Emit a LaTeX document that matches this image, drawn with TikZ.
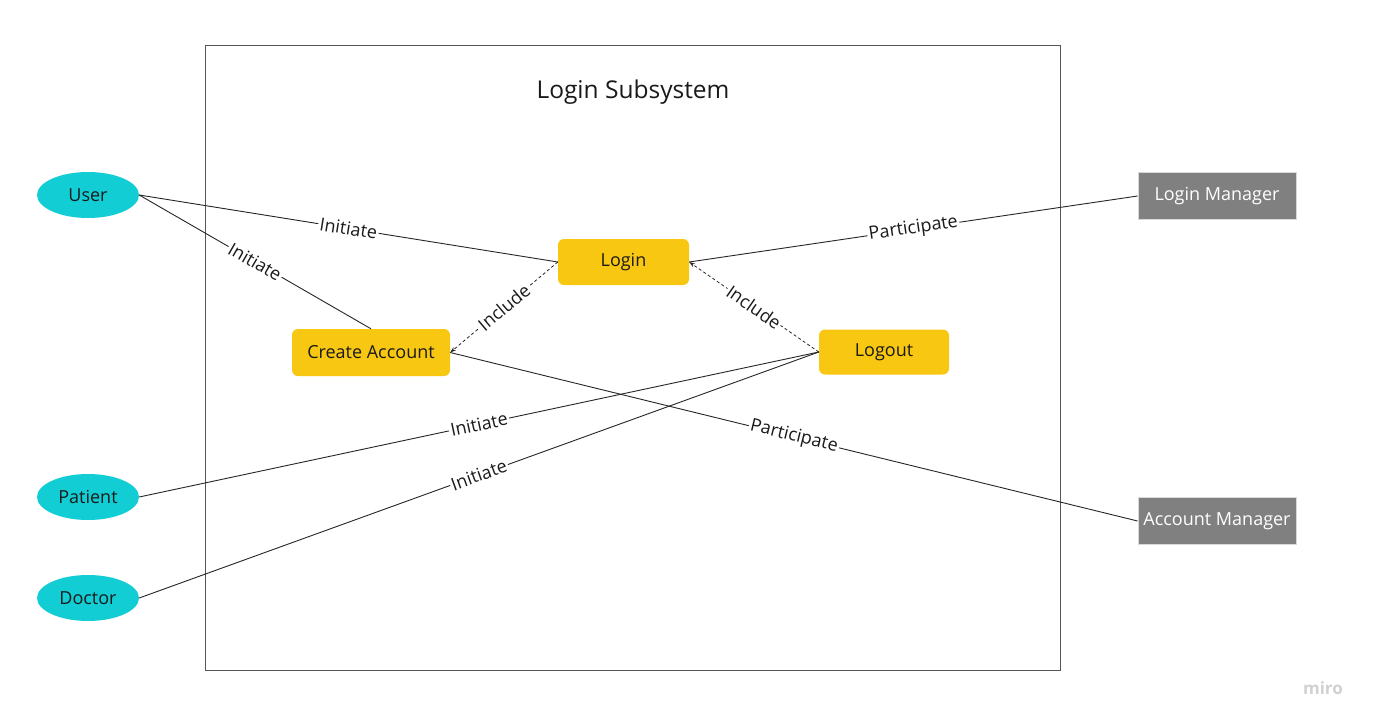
\documentclass[tikz,border=0pt]{standalone}
\usepackage{fontspec}
\setmainfont{Open Sans}
\usetikzlibrary{arrows.meta,shapes.geometric}
\definecolor{actorc}{HTML}{12CDD4}
\definecolor{usec}{HTML}{F8C711}
\definecolor{extc}{HTML}{808080}
\definecolor{txtc}{HTML}{1A1A1A}
\definecolor{framec}{HTML}{555555}
\tikzset{
  actor/.style={ellipse,fill=actorc,draw=none,minimum width=102pt,minimum height=46pt,inner sep=0pt,font=\fontsize{18}{20}\selectfont,text=txtc},
  usecase/.style={rectangle,rounded corners=6pt,fill=usec,draw=none,minimum height=46pt,inner sep=0pt,font=\fontsize{18}{20}\selectfont,text=txtc},
  extbox/.style={rectangle,fill=extc,draw=white!85!black,line width=0.8pt,minimum width=158pt,minimum height=47pt,inner sep=0pt,font=\fontsize{18}{20}\selectfont,text=white},
  conn/.style={draw=black!85,line width=0.9pt},
  incl/.style={draw=black!85,line width=0.8pt,dash pattern=on 3pt off 2.5pt,-{Stealth[length=6pt,width=4pt]}},
  lbl/.style={fill=white,inner sep=1.5pt,sloped,font=\fontsize{18}{20}\selectfont,text=txtc,midway},
}
\begin{document}
\begin{tikzpicture}[x=1pt,y=-1pt]
\useasboundingbox (0,0) rectangle (1377,726);
\fill[white] (0,0) rectangle (1377,726);
% frame
\node[draw=framec,line width=0.8pt,minimum width=855pt,minimum height=625pt,inner sep=0pt] (frame) at (632.5,357.5) {};
\node[font=\fontsize{24.5}{28}\selectfont,text=txtc] (title) at (633,92) {Login Subsystem};
% actors
\node[actor] (user) at (88,195) {User};
\node[actor] (patient) at (88,497) {Patient};
\node[actor] (doctor) at (88,598) {Doctor};
% use cases
\node[usecase,minimum width=131pt] (login) at (623.5,262) {Login};
\node[usecase,minimum width=158pt,minimum height=47pt] (ca) at (371,352.5) {Create Account};
\node[usecase,minimum width=130pt,minimum height=45pt] (logout) at (884,352) {Logout};
% external
\node[extbox] (lm) at (1217,196) {Login Manager};
\node[extbox] (am) at (1217,521) {Account Manager};
% connectors
\draw[conn] (user.east) -- (login.west) node[lbl] {Initiate};
\draw[conn] (user.east) -- (ca.north) node[lbl] {Initiate};
\draw[conn] (lm.west) -- (login.east) node[lbl] {Participate};
\draw[conn] (ca.east) -- (am.west) node[lbl] {Participate};
\draw[conn] (patient.east) -- (logout.west) node[lbl] {Initiate};
\draw[conn] (doctor.east) -- (logout.west) node[lbl] {Initiate};
\draw[incl] (login.west) -- (ca.east) node[lbl] {Include};
\draw[incl] (logout.west) -- (login.east) node[lbl] {Include};
% watermark
\node[font=\bfseries\fontsize{17}{19}\selectfont,text=black!18] (miro) at (1323,688) {miro};
\end{tikzpicture}
\end{document}
